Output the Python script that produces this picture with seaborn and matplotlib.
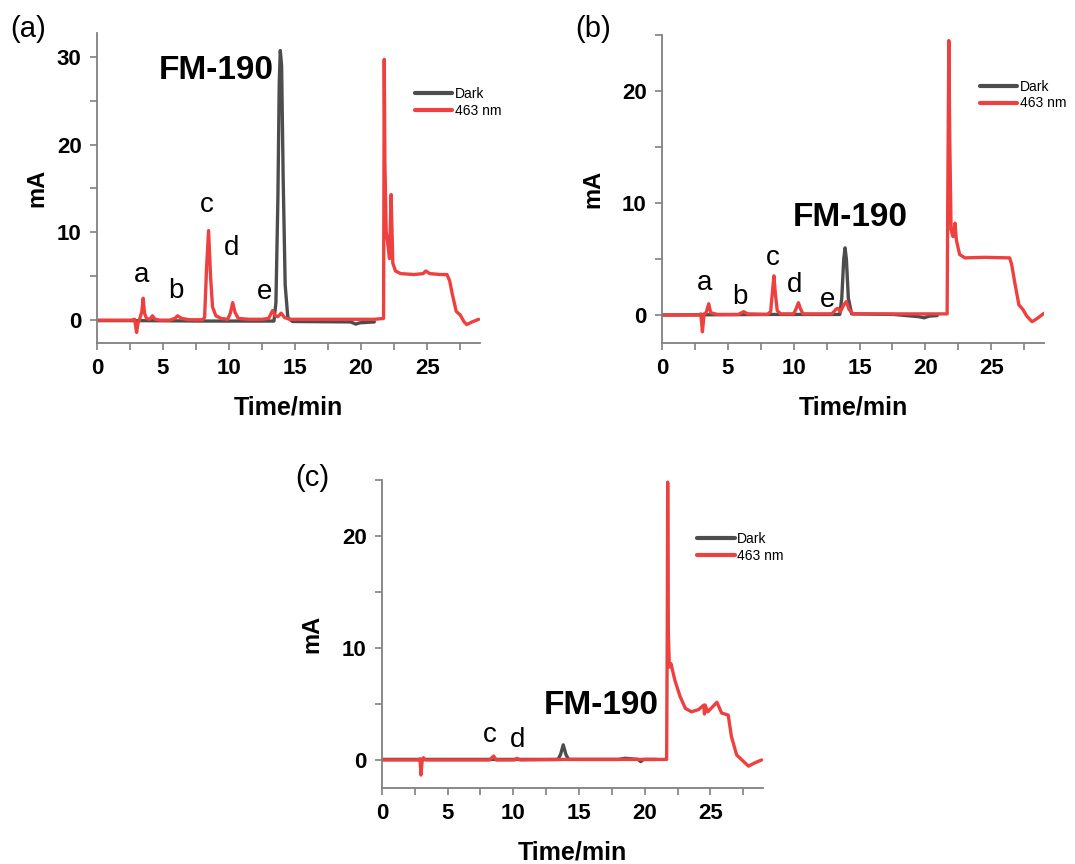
import matplotlib
matplotlib.use("Agg")
import matplotlib.pyplot as plt
import seaborn as sns
import pandas as pd
from matplotlib.ticker import MultipleLocator

# HPLC traces (time in min, signal in mA) for the dark control and 463 nm irradiation
A_DARK = [(0, -0.05), (3.0, -0.05), (8.3, -0.1), (13.4, -0.1), (13.55, 2.0), (13.7, 14.0),
          (13.8, 27.0), (13.88, 30.7), (13.98, 29.0), (14.1, 16.0), (14.25, 4.0),
          (14.45, 0.3), (14.8, -0.15), (19.2, -0.2), (19.6, -0.45), (19.9, -0.3), (21.0, -0.2)]
A_463 = [(0, 0), (2.6, 0), (2.85, 0.1), (3.0, -1.4), (3.1, -0.4), (3.25, 0.2), (3.4, 1.0),
         (3.5, 2.5), (3.6, 0.8), (3.75, 0.2), (4.0, 0.1), (4.2, 0.5), (4.4, 0.1), (4.8, 0.0),
         (5.5, 0.0), (5.9, 0.2), (6.1, 0.5), (6.4, 0.2), (7.0, 0.05), (8.0, 0.05), (8.15, 0.3),
         (8.3, 6.0), (8.45, 10.2), (8.6, 5.0), (8.75, 1.5), (9.0, 0.5), (9.4, 0.2), (9.9, 0.1),
         (10.1, 0.8), (10.28, 2.0), (10.45, 0.9), (10.7, 0.2), (11.5, 0.1), (12.5, 0.1),
         (13.0, 0.2), (13.3, 1.1), (13.5, 0.5), (13.7, 0.4), (13.95, 0.8), (14.2, 0.3),
         (14.6, 0.1), (16.0, 0.1), (18.0, 0.1), (21.0, 0.1), (21.7, 0.2), (21.75, 29.7),
         (21.8, 18.0), (21.9, 10.0), (22.0, 9.0), (22.15, 7.0), (22.27, 14.3), (22.4, 6.5),
         (22.6, 5.6), (23.0, 5.3), (24.0, 5.2), (24.7, 5.3), (24.9, 5.6), (25.2, 5.3),
         (26.0, 5.2), (26.5, 5.2), (26.7, 4.5), (26.9, 3.0), (27.2, 1.0), (27.5, 0.6),
         (27.8, -0.2), (28.0, -0.5), (28.4, -0.2), (28.9, 0.1)]

B_DARK = [(0, 0.0), (8.3, 0.05), (13.5, 0.05), (13.65, 1.5), (13.8, 5.0), (13.9, 6.0),
          (14.0, 5.0), (14.15, 1.5), (14.4, 0.1), (17.6, 0.05), (19.5, -0.15), (19.9, -0.25),
          (20.3, -0.1), (20.9, -0.05)]
B_463 = [(0, 0), (2.8, 0), (2.95, 0.1), (3.07, -1.5), (3.2, 0.1), (3.35, 0.2), (3.55, 1.0),
         (3.7, 0.2), (4.2, 0.05), (5.8, 0.05), (6.2, 0.3), (6.5, 0.1), (8.0, 0.05),
         (8.25, 0.3), (8.42, 2.5), (8.5, 3.5), (8.6, 2.0), (8.75, 0.4), (9.0, 0.1),
         (10.0, 0.1), (10.2, 0.6), (10.36, 1.1), (10.5, 0.6), (10.7, 0.1), (12.9, 0.1),
         (13.2, 0.5), (13.35, 0.6), (13.55, 0.3), (13.8, 0.9), (14.0, 1.2), (14.2, 0.5),
         (14.5, 0.1), (21.65, 0.1), (21.7, 10.6), (21.78, 24.5), (21.85, 15.6), (21.95, 7.6),
         (22.1, 7.0), (22.25, 8.2), (22.35, 6.7), (22.6, 5.4), (23.0, 5.1), (24.5, 5.15),
         (26.4, 5.1), (26.55, 4.5), (26.8, 2.8), (27.1, 0.9), (27.4, 0.5), (27.7, -0.1),
         (28.1, -0.6), (28.5, -0.3), (29.0, 0.15)]

C_DARK = [(0, 0.05), (13.4, 0.05), (13.6, 0.5), (13.8, 1.35), (14.0, 0.5), (14.2, 0.05),
          (18.0, 0.05), (18.5, 0.15), (19.5, 0.05), (19.7, -0.15), (19.9, 0.05), (20.9, 0.05)]
C_463 = [(0, 0), (2.8, 0), (2.9, 0.1), (2.97, -1.35), (3.05, -0.2), (3.15, 0.2), (3.3, 0),
         (8.2, 0), (8.5, 0.35), (8.7, 0), (10.1, 0), (10.27, 0.15), (10.5, 0), (14.0, 0.05),
         (21.67, 0.05), (21.72, 12.0), (21.75, 24.8), (21.8, 11.3), (21.88, 8.3), (22.0, 8.6),
         (22.3, 7.1), (22.7, 5.65), (23.1, 4.6), (23.57, 4.3), (24.1, 4.5), (24.5, 4.9),
         (24.55, 4.1), (24.6, 4.9), (24.8, 4.3), (25.5, 5.15), (25.85, 4.2), (26.36, 4.0),
         (26.6, 2.1), (27.0, 0.45), (27.4, 0.0), (27.9, -0.55), (28.4, -0.25), (28.9, 0.0)]

SERIES_NAMES = ["Dark", "463 nm"]
PALETTE = {"Dark": "#4d4d4d", "463 nm": "#EF4040"}

# Peak labels: (text, time, signal)
A_PEAKS = [("a", 3.4, 5.2), ("b", 6.0, 3.3), ("c", 8.35, 13.1), ("d", 10.2, 8.2), ("e", 12.7, 3.2)]
B_PEAKS = [("a", 3.2, 2.9), ("b", 5.9, 1.6), ("c", 8.45, 5.1), ("d", 10.1, 2.7), ("e", 12.6, 1.3)]
C_PEAKS = [("c", 8.2, 2.2), ("d", 10.3, 1.8)]
FM_LABEL = "FM-190"
FM_POS = {"a": (9.05, 28.4), "b": (14.3, 8.7), "c": (16.7, 4.9)}

sns.set_style("ticks")
plt.rcParams["font.family"] = ["Liberation Sans", "DejaVu Sans"]
plt.rcParams["text.color"] = "black"
plt.rcParams["axes.labelcolor"] = "black"
plt.rcParams["xtick.labelcolor"] = "black"
plt.rcParams["ytick.labelcolor"] = "black"

fig = plt.figure(figsize=(10.75, 8.64), dpi=100)
ax_a = fig.add_axes([0.0902, 0.603, 0.3563, 0.3588])
ax_b = fig.add_axes([0.6158, 0.603, 0.3553, 0.3565])
ax_c = fig.add_axes([0.3553, 0.088, 0.3544, 0.3565])


def frame(dark, red):
    rows = [(t, v, "Dark") for t, v in dark] + [(t, v, "463 nm") for t, v in red]
    return pd.DataFrame(rows, columns=["time", "signal", "series"])


def draw(ax, dark, red, ylim, ymajor, peaks, fm_xy, legend_xy, ylabelpad):
    df = frame(dark, red)
    sns.lineplot(data=df, x="time", y="signal", hue="series", hue_order=SERIES_NAMES,
                 palette=PALETTE, estimator=None, sort=False, lw=2.4, ax=ax)
    ax.set_xlim(0, 29)
    ax.set_ylim(*ylim)
    ax.xaxis.set_major_locator(MultipleLocator(5))
    ax.xaxis.set_minor_locator(MultipleLocator(2.5))
    ax.yaxis.set_major_locator(MultipleLocator(ymajor))
    ax.yaxis.set_minor_locator(MultipleLocator(ymajor / 2))
    sns.despine(ax=ax)
    for side in ("left", "bottom"):
        ax.spines[side].set_color("#808080")
        ax.spines[side].set_linewidth(1.3)
    ax.tick_params(which="both", direction="out", length=5, width=1.2, color="#808080",
                   pad=6, labelsize=16, labelcolor="black")
    for lab in ax.get_xticklabels() + ax.get_yticklabels():
        lab.set_fontweight("bold")
    ax.set_xlabel("Time/min", fontsize=18, fontweight="bold", labelpad=12)
    ax.set_ylabel("mA", fontsize=17, fontweight="bold", labelpad=ylabelpad)
    for txt, t, v in peaks:
        ax.text(t, v, txt, fontsize=20, ha="center", va="center")
    ax.text(fm_xy[0], fm_xy[1], FM_LABEL, fontsize=24, fontweight="bold",
            ha="center", va="center")
    leg = ax.legend(loc="upper left", bbox_to_anchor=legend_xy, frameon=False,
                    fontsize=10, handlelength=2.7, handletextpad=0.2,
                    labelspacing=0.2, borderpad=0, borderaxespad=0)
    for line in leg.get_lines():
        line.set_linewidth(3)


draw(ax_a, A_DARK, A_463, (-2.6, 32.7), 10, A_PEAKS, FM_POS["a"], (0.83, 0.825), 6)
draw(ax_b, B_DARK, B_463, (-2.5, 25), 10, B_PEAKS, FM_POS["b"], (0.832, 0.855), 13)
draw(ax_c, C_DARK, C_463, (-2.5, 25), 10, C_PEAKS, FM_POS["c"], (0.827, 0.83), 13)

fig.text(0.01, 0.966, "(a)", fontsize=21, ha="left", va="center")
fig.text(0.535, 0.966, "(b)", fontsize=21, ha="left", va="center")
fig.text(0.275, 0.447, "(c)", fontsize=21, ha="left", va="center")

fig.savefig("out.png", dpi=100)
